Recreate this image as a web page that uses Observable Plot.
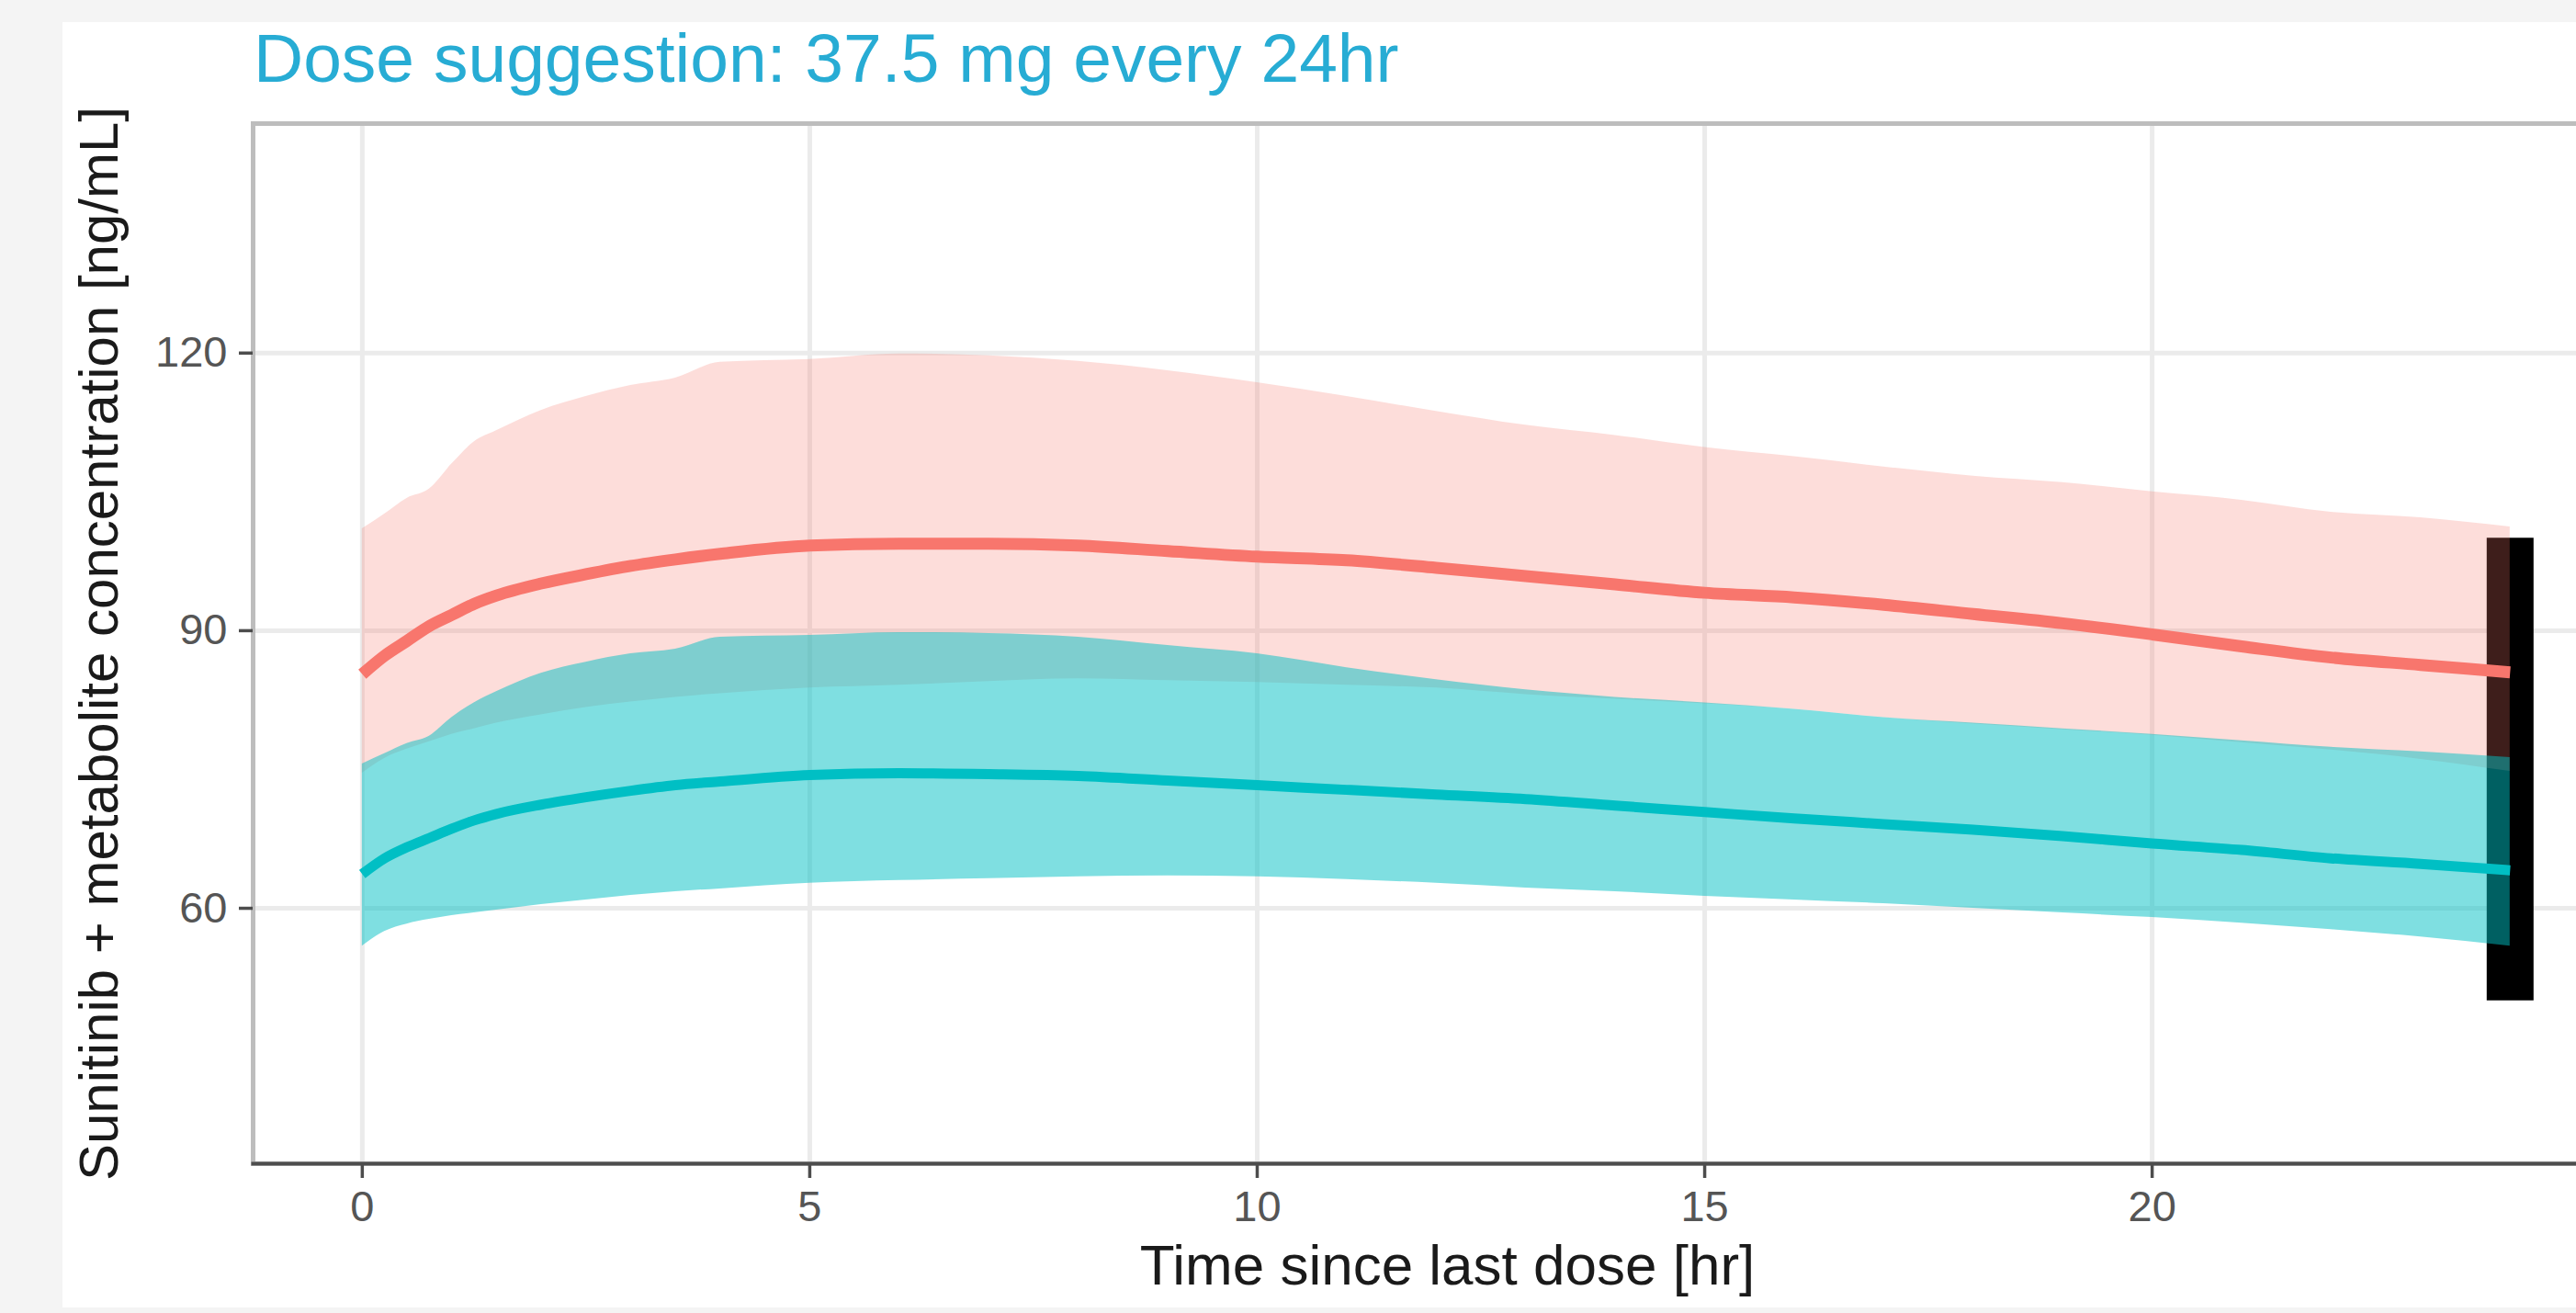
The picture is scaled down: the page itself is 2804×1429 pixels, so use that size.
<!DOCTYPE html>
<html>
<head>
<meta charset="utf-8">
<script src="https://cdn.jsdelivr.net/npm/d3@7"></script>
<script src="https://cdn.jsdelivr.net/npm/@observablehq/plot@0.6"></script>
<style>
html, body { margin: 0; padding: 0; width: 2804px; height: 1429px; overflow: hidden; background: #f4f4f4; font-family: "Liberation Sans", Arial, sans-serif; }
#card { position: absolute; left: 68px; top: 24px; right: 0; height: 1399px; background: #ffffff; }
#title { position: absolute; left: 276px; top: 26px; margin: 0; font-size: 75px; line-height: 75px; font-weight: normal; color: #27acd4; white-space: nowrap; }
#chart { position: absolute; left: 0; top: 0; }
#chart svg { max-width: none !important; }
</style>
</head>
<body>
<div id="card"></div>
<h1 id="title">Dose suggestion: 37.5 mg every 24hr</h1>
<div id="chart"></div>
<script>
// Time since last dose [hr]
const times = [0, 0.25, 0.5, 0.75, 1, 1.25, 1.5, 2, 2.5, 3, 3.5, 4, 5, 6, 7, 8, 9, 10, 11, 12, 13, 14, 15, 16, 17, 18, 19, 20, 21, 22, 23, 24];

// Red series (higher exposure): median and interval
const redMedian = [85.3, 87.3, 88.9, 90.5, 91.7, 92.9, 93.8, 95.1, 96.1, 97.0, 97.7, 98.3, 99.2, 99.4, 99.4, 99.2, 98.6, 98.0, 97.6, 96.8, 95.9, 95.0, 94.1, 93.6, 92.8, 91.8, 90.8, 89.6, 88.3, 87.1, 86.3, 85.5];
const redUpper  = [101.0, 102.6, 104.3, 105.3, 108.0, 110.4, 111.6, 113.8, 115.3, 116.5, 117.3, 119.0, 119.3, 119.9, 119.7, 119.1, 118.1, 116.8, 115.3, 113.7, 112.2, 111.1, 109.8, 108.8, 107.7, 106.7, 106.0, 105.0, 104.1, 102.8, 102.2, 101.2];
const redLower  = [74.6, 76.2, 77.2, 78.0, 78.8, 79.4, 80.0, 80.9, 81.7, 82.3, 82.8, 83.2, 83.8, 84.1, 84.5, 84.8, 84.6, 84.4, 84.1, 83.8, 83.1, 82.6, 82.1, 81.5, 80.6, 79.9, 79.3, 78.7, 77.9, 77.1, 76.1, 74.8];

// Cyan series (suggested dose): median and interval
const cyanMedian = [63.7, 65.4, 66.6, 67.6, 68.6, 69.5, 70.2, 71.2, 72.0, 72.7, 73.3, 73.7, 74.4, 74.6, 74.5, 74.3, 73.8, 73.3, 72.8, 72.3, 71.8, 71.1, 70.4, 69.7, 69.1, 68.5, 67.8, 67.0, 66.3, 65.4, 64.8, 64.1];
const cyanUpper  = [75.6, 76.7, 77.8, 78.6, 80.6, 82.2, 83.4, 85.4, 86.6, 87.5, 88.0, 89.3, 89.5, 89.8, 89.7, 89.3, 88.4, 87.5, 86.0, 84.7, 83.6, 82.8, 82.2, 81.5, 80.6, 80.0, 79.4, 78.8, 78.1, 77.4, 76.9, 76.3];
const cyanLower  = [55.9, 57.5, 58.3, 58.8, 59.2, 59.5, 59.8, 60.4, 60.9, 61.4, 61.8, 62.1, 62.7, 63.0, 63.2, 63.4, 63.5, 63.4, 63.1, 62.7, 62.2, 61.8, 61.3, 60.9, 60.5, 60.0, 59.5, 59.0, 58.4, 57.7, 56.9, 55.9];

// Target concentration window shown at the end of the dosing interval
const targetTime = 24;
const targetRange = [50, 100];

// Axis ticks
const xTicks = [0, 5, 10, 15, 20, 25];
const yTicks = [60, 90, 120];

const titleX = "Time since last dose [hr]";
const titleY = "Sunitinib + metabolite concentration [ng/mL]";

const rows = times.map((t, i) => ({
  t,
  redMed: redMedian[i], redHi: redUpper[i], redLo: redLower[i],
  cyanMed: cyanMedian[i], cyanHi: cyanUpper[i], cyanLo: cyanLower[i]
}));
const target = [{t: targetTime, lo: targetRange[0], hi: targetRange[1]}];

const RED = "#F8766D";
const CYAN = "#00BFC4";

const chart = Plot.plot({
  width: 2950,
  height: 1429,
  marginTop: 134,
  marginBottom: 163,
  marginLeft: 275,
  marginRight: 75,
  style: {background: "transparent", fontFamily: '"Liberation Sans", Arial, sans-serif', maxWidth: "none", overflow: "visible"},
  x: {domain: [-1.22, 25.47]},
  y: {domain: [32.4, 144.8]},
  marks: [
    Plot.gridX(xTicks, {stroke: "#ebebeb", strokeOpacity: 1, strokeWidth: 5}),
    Plot.gridY(yTicks, {stroke: "#ebebeb", strokeOpacity: 1, strokeWidth: 5}),
    Plot.ruleX(target, {x: "t", y1: "lo", y2: "hi", stroke: "#000000", strokeWidth: 51}),
    Plot.areaY(rows, {x: "t", y1: "redLo", y2: "redHi", fill: RED, fillOpacity: 0.25, curve: "monotone-x"}),
    Plot.areaY(rows, {x: "t", y1: "cyanLo", y2: "cyanHi", fill: CYAN, fillOpacity: 0.5, curve: "monotone-x"}),
    Plot.line(rows, {x: "t", y: "redMed", stroke: RED, strokeWidth: 13, strokeLinecap: "butt", curve: "monotone-x"}),
    Plot.line(rows, {x: "t", y: "cyanMed", stroke: CYAN, strokeWidth: 11, strokeLinecap: "butt", curve: "monotone-x"}),
    Plot.frame({stroke: "#bdbdbd", strokeWidth: 5}),
    Plot.frame({anchor: "bottom", stroke: "#4d4d4d", strokeWidth: 4}),
    Plot.axisX(xTicks, {tickSize: 16, tickPadding: 13, fontSize: 47, stroke: "#4d4d4d", strokeWidth: 3.5, fill: "#555555", label: null}),
    Plot.axisY(yTicks, {tickSize: 15, tickPadding: 13, fontSize: 47, stroke: "#4d4d4d", strokeWidth: 3.5, fill: "#555555", label: null}),
    Plot.axisX([], {tickSize: 0, label: titleX, labelAnchor: "center", labelOffset: 131, labelArrow: "none", fontSize: 62, fill: "#1a1a1a"}),
    Plot.axisY([], {tickSize: 0, label: titleY, labelAnchor: "center", labelOffset: 190, labelArrow: "none", fontSize: 60, fill: "#1a1a1a"})
  ]
});
document.getElementById("chart").appendChild(chart);
</script>
</body>
</html>
